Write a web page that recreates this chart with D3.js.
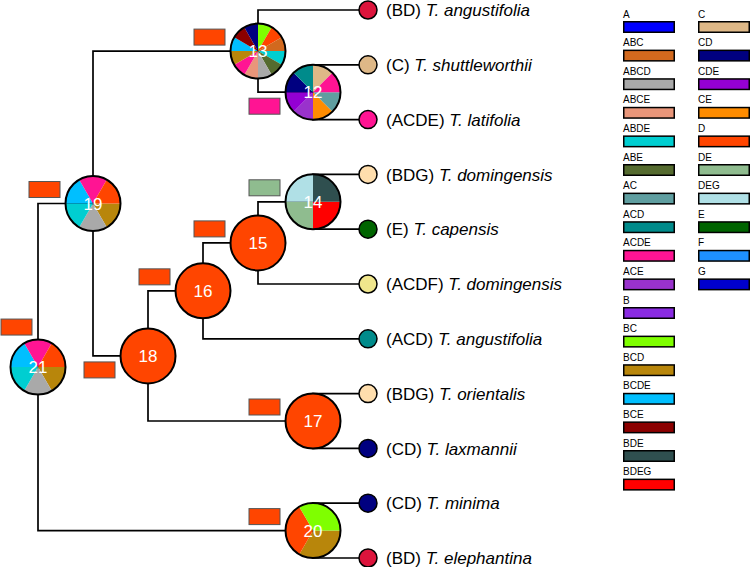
<!DOCTYPE html>
<html>
<head>
<meta charset="utf-8">
<script src="https://cdn.jsdelivr.net/npm/d3@7"></script>
<style>
  body { margin: 0; background: #fff; }
  text { font-family: "Liberation Sans", Arial, sans-serif; }
</style>
</head>
<body>
<svg id="drawing_region"></svg>
<script>
// legend: ancestral range codes and their colours
const areaCodes = ["A","ABC","ABCD","ABCE","ABDE","ABE","AC","ACD","ACDE","ACE","B","BC","BCD","BCDE","BCE","BDE","BDEG",
                   "C","CD","CDE","CE","D","DE","DEG","E","F","G"];
const areaColors = ["#0000ff","#d2691e","#a9a9a9","#e9967a","#00ced1","#556b2f","#5f9ea0","#008b8b","#ff1493","#9932cc","#8a2be2","#7fff00","#b8860b","#00bfff","#8b0000","#2f4f4f","#ff0000",
                    "#deb887","#000080","#9400d3","#ff8c00","#ff4500","#8fbc8f","#b0e0e6","#006400","#1e90ff","#0000cd"];

// tips, top to bottom
const tipRanges = ["BD","C","ACDE","BDG","E","ACDF","ACD","BDG","CD","CD","BD"];
const tipSpecies = ["angustifolia","shuttleworthii","latifolia","domingensis","capensis","domingensis","angustifolia","orientalis","laxmannii","minima","elephantina"];
const tipColors = ["#dc143c","#deb887","#ff1493","#ffdead","#006400","#f0e68c","#008b8b","#ffdead","#000080","#000080","#dc143c"];

// tree topology (numbers = internal node ids, tip = tip index)
const tree = {id: 21, children: [
  {id: 19, children: [
    {id: 13, children: [{tip: 0}, {id: 12, children: [{tip: 1}, {tip: 2}]}]},
    {id: 18, children: [
      {id: 16, children: [
        {id: 15, children: [{id: 14, children: [{tip: 3}, {tip: 4}]}, {tip: 5}]},
        {tip: 6}]},
      {id: 17, children: [{tip: 7}, {tip: 8}]}]}]},
  {id: 20, children: [{tip: 9}, {tip: 10}]}]};

// ancestral range probabilities at nodes (slices clockwise from 3 o'clock)
const nodeIds = [21, 19, 13, 12, 18, 16, 15, 14, 17, 20];
const nodeStates = [
  ["BCD","ABCD","ABDE","BCDE","ACDE","D"],
  ["BCD","ABCD","ABDE","BCDE","ACDE","D"],
  ["ABDE","ABE","ABCD","ABCE","ACDE","BCD","BCDE","BCE","CD","BC","D","ABC"],
  ["AC","CE","ACE","CDE","CD","ACD","C","ACDE"],
  ["D"],
  ["D"],
  ["D"],
  ["BDEG","DE","DEG","BDE"],
  ["D"],
  ["BCD","D","BC"]
];
// most probable state on the branch subtending each node
const branchStates = ["D","D","D","ACDE","D","D","D","DE","D","D"];
const boxBelow = [12, 18];

const width = 751, height = 567;
const svg = d3.select("#drawing_region").attr("width", width).attr("height", height);
const color = d3.scaleOrdinal().domain(areaCodes).range(areaColors);

const root = d3.hierarchy(tree);
const tipX = 368, step = 55, R = 27.5;
const y = d3.scaleLinear().domain([0, tipRanges.length - 1]).range([10, 558]);

root.eachAfter(d => {
  if (!d.children) { d.px = tipX; d.py = y(d.data.tip); }
  else {
    d.px = tipX - step * d.height;
    d.py = d3.mean(d.children, c => c.py);
  }
});

// links
svg.append("g")
  .selectAll("path")
  .data(root.links())
  .join("path")
  .attr("d", l => `M${l.source.px},${l.source.py}V${l.target.py}H${l.target.px}`)
  .attr("fill", "none")
  .attr("stroke", "#000")
  .attr("stroke-width", 1.7);

// tips
const tips = root.leaves();
svg.append("g").selectAll("circle")
  .data(tips)
  .join("circle")
  .attr("cx", d => d.px).attr("cy", d => d.py).attr("r", 9)
  .attr("fill", d => tipColors[d.data.tip])
  .attr("stroke", "#000").attr("stroke-width", 1.5);

const lab = svg.append("g").selectAll("text")
  .data(tips)
  .join("text")
  .attr("x", 386).attr("y", d => d.py).attr("dy", "0.36em")
  .attr("font-size", 17).attr("fill", "#000");
lab.append("tspan").text(d => `(${tipRanges[d.data.tip]}) `);
lab.append("tspan").attr("font-style", "italic").text(d => `T. ${tipSpecies[d.data.tip]}`);

// internal nodes
const inner = root.descendants().filter(d => d.children);
const pie = d3.pie().value(1).sort(null).startAngle(Math.PI / 2).endAngle(Math.PI / 2 + 2 * Math.PI);
const arc = d3.arc().innerRadius(0).outerRadius(R);

// branch state boxes
svg.append("g").selectAll("rect")
  .data(inner)
  .join("rect")
  .attr("x", d => d.depth === 0 ? d.px - 37 : d.px - 64)
  .attr("y", d => d.depth === 0 ? d.py - 48 : (boxBelow.includes(d.data.id) ? d.py + 6 : d.py - 22))
  .attr("width", 31).attr("height", 16)
  .attr("fill", d => color(branchStates[nodeIds.indexOf(d.data.id)]))
  .attr("stroke", "#555").attr("stroke-width", 1);

const ng = svg.append("g").selectAll("g")
  .data(inner)
  .join("g")
  .attr("transform", d => `translate(${d.px},${d.py})`);

ng.selectAll("path")
  .data(d => pie(nodeStates[nodeIds.indexOf(d.data.id)]))
  .join("path")
  .attr("d", arc)
  .attr("fill", s => color(s.data));

ng.append("circle").attr("r", R)
  .attr("fill", "none").attr("stroke", "#000").attr("stroke-width", 2);

ng.append("text")
  .attr("text-anchor", "middle").attr("dy", "0.36em")
  .attr("font-size", 17).attr("fill", "#fff")
  .text(d => d.data.id);

// legend
const nCol1 = 17;
const ly = d3.scaleLinear().domain([0, 1]).range([21, 49.6]);
const leg = svg.append("g").selectAll("g")
  .data(areaCodes)
  .join("g")
  .attr("transform", (d, i) => `translate(${i < nCol1 ? 623 : 698},${ly(i < nCol1 ? i : i - nCol1)})`);
leg.append("rect")
  .attr("x", 0.75).attr("y", 0.75).attr("width", 50.5).attr("height", 10.5)
  .attr("fill", d => color(d)).attr("stroke", "#000").attr("stroke-width", 1.5);
leg.append("text")
  .attr("x", 0).attr("y", -3.5)
  .attr("font-size", 10).attr("fill", "#000")
  .text(d => d);
</script>
</body>
</html>
